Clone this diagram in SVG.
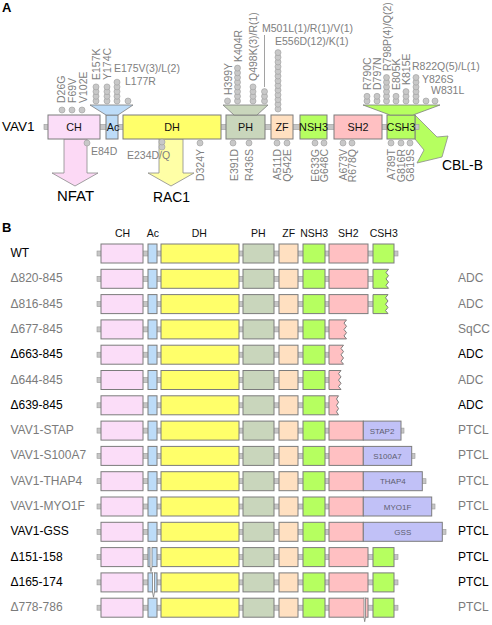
<svg xmlns="http://www.w3.org/2000/svg" xmlns:xlink="http://www.w3.org/1999/xlink" width="492" height="625" viewBox="0 0 492 625">
<style>
text{font-family:"Liberation Sans",Arial,Helvetica,sans-serif}
.d{stroke:#7c7c7c;stroke-width:1}
.ch{fill:#FBDDF8}.ac{fill:#BDDCF8}.dh{fill:#FFFF6A}.ph{fill:#C9D6BC}.zf{fill:#FFE0C1}.s3{fill:#B6FF60}.s2{fill:#FFC0C2}.fu{fill:#C1C1F7}
.bb{fill:#C6C6C6;stroke:#9a9a9a;stroke-width:.6}
.m{fill:#C8C8C8;stroke:#9c9c9c;stroke-width:.6}
.ml{font-size:10.5px;fill:#808080}
.dl{font-size:10.8px;fill:#111;text-anchor:middle}
.hd{font-size:10.5px;fill:#111;text-anchor:middle}
.rl{font-size:12px}
.g{fill:#7b7b7b}.k{fill:#000}
.big{font-size:15px;fill:#000}
.fl{font-size:8px;fill:#5e5e70;text-anchor:middle}
.nt{fill:#fff;stroke:#7c7c7c;stroke-width:.8}
.pl{font-size:13px;font-weight:bold;fill:#000}
</style>
<defs>
<circle id="m" r="3" class="m"/>
<g id="core">
<rect class="d ch" x="101" y="0" width="42" height="19"/>
<rect class="d ac" x="148" y="0" width="9" height="19"/>
<rect class="d dh" x="161" y="0" width="78" height="19"/>
<rect class="d ph" x="243" y="0" width="31" height="19"/>
<rect class="d zf" x="279" y="0" width="19" height="19"/>
<rect class="d s3" x="303" y="0" width="22" height="19"/>
</g>
</defs>

<!-- Panel A -->
<text class="pl" x="2" y="12">A</text>
<text x="2" y="131" style="font-size:13.5px;fill:#000">VAV1</text>

<g id="connectors">
<polygon id="arrow-cblb" points="415,115 437,137 448,136 442,157 417,163 424,150 415,139" fill="#B6FF60" stroke="#8a8a8a" stroke-width="0.8"/>
<rect class="bb" x="44" y="124.5" width="375" height="5"/>
<polygon id="arrow-nfat" points="64,139 87,139 87,173 98,173 75,186 52,173 64,173" fill="#FCD9F5" stroke="#8a8a8a" stroke-width="0.8"/>
<polygon id="arrow-rac1" points="159,139 183,139 183,173 194,173 171,186 148,173 159,173" fill="#FFFFA6" stroke="#8a8a8a" stroke-width="0.8"/>
<line x1="264.5" y1="35" x2="264.5" y2="87" stroke="#8a8a8a" stroke-width="0.8"/>
</g>

<g id="a-ch"><rect class="d ch" x="48" y="115" width="52" height="24"/><text class="dl" x="74" y="130.5">CH</text></g>
<g id="a-ac"><rect class="d ac" x="106" y="115" width="12" height="24"/><polygon class="ac" points="90,105 133,105 118,115 106,115" stroke="#7c7c7c" stroke-width="0.8"/><text class="dl" x="113" y="130.5">Ac</text></g>
<g id="a-dh"><rect class="d dh" x="123" y="115" width="98" height="24"/><text class="dl" x="172" y="130.5">DH</text></g>
<g id="a-ph"><rect class="d ph" x="226" y="115" width="39" height="24"/><polygon class="ph" points="223,105 268,105 257,115 234,115" stroke="#7c7c7c" stroke-width="0.8"/><text class="dl" x="245.5" y="130.5">PH</text></g>
<g id="a-zf"><rect class="d zf" x="271" y="115" width="22" height="24"/><text class="dl" x="282" y="130.5">ZF</text></g>
<g id="a-nsh3"><rect class="d s3" x="300" y="115" width="27" height="24"/><text class="dl" x="313.5" y="130.5">NSH3</text></g>
<g id="a-sh2"><rect class="d s2" x="334" y="115" width="48" height="24"/><text class="dl" x="358" y="130.5">SH2</text></g>
<g id="a-csh3"><rect class="d s3" x="387" y="115" width="28" height="24"/><polygon class="s3" points="363,105 440,105 413,115 390,115" stroke="#7c7c7c" stroke-width="0.8"/><text class="dl" x="401" y="130.5">CSH3</text></g>

<text class="big" x="75.5" y="200.5" text-anchor="middle" textLength="37" lengthAdjust="spacingAndGlyphs">NFAT</text>
<text class="big" x="171.5" y="202" text-anchor="middle" textLength="37" lengthAdjust="spacingAndGlyphs">RAC1</text>
<text class="big" x="442" y="170" textLength="41" lengthAdjust="spacingAndGlyphs">CBL-B</text>

<g id="mutations">
<use xlink:href="#m" x="62" y="110"/><use xlink:href="#m" x="72" y="110"/><use xlink:href="#m" x="82" y="110"/>
<use xlink:href="#m" x="96" y="101"/><use xlink:href="#m" x="96" y="96.3"/><use xlink:href="#m" x="96" y="91.6"/><use xlink:href="#m" x="96" y="86.9"/>
<use xlink:href="#m" x="107" y="101"/><use xlink:href="#m" x="107" y="96.3"/><use xlink:href="#m" x="107" y="91.6"/><use xlink:href="#m" x="107" y="86.9"/>
<use xlink:href="#m" x="117" y="101"/><use xlink:href="#m" x="117" y="96.3"/><use xlink:href="#m" x="117" y="91.6"/><use xlink:href="#m" x="117" y="86.9"/><use xlink:href="#m" x="117" y="82.2"/>
<use xlink:href="#m" x="128" y="101"/>
<use xlink:href="#m" x="227.5" y="101"/>
<use xlink:href="#m" x="237.5" y="101"/><use xlink:href="#m" x="237.5" y="96.3"/><use xlink:href="#m" x="237.5" y="91.6"/><use xlink:href="#m" x="237.5" y="86.9"/><use xlink:href="#m" x="237.5" y="82.2"/><use xlink:href="#m" x="237.5" y="77.5"/><use xlink:href="#m" x="237.5" y="72.8"/><use xlink:href="#m" x="237.5" y="68.1"/>
<use xlink:href="#m" x="253" y="101"/><use xlink:href="#m" x="253" y="96.3"/><use xlink:href="#m" x="253" y="91.6"/><use xlink:href="#m" x="253" y="86.9"/>
<use xlink:href="#m" x="264.5" y="101"/><use xlink:href="#m" x="264.5" y="96.3"/><use xlink:href="#m" x="264.5" y="91.6"/>
<use xlink:href="#m" x="278" y="109"/><use xlink:href="#m" x="278" y="104.3"/><use xlink:href="#m" x="278" y="99.6"/><use xlink:href="#m" x="278" y="94.9"/><use xlink:href="#m" x="278" y="90.2"/><use xlink:href="#m" x="278" y="85.5"/><use xlink:href="#m" x="278" y="80.8"/><use xlink:href="#m" x="278" y="76.1"/><use xlink:href="#m" x="278" y="71.4"/><use xlink:href="#m" x="278" y="66.7"/><use xlink:href="#m" x="278" y="62"/><use xlink:href="#m" x="278" y="57.3"/><use xlink:href="#m" x="278" y="52.6"/>
<use xlink:href="#m" x="367" y="101"/><use xlink:href="#m" x="367" y="96.3"/>
<use xlink:href="#m" x="377" y="101"/><use xlink:href="#m" x="377" y="96.3"/>
<use xlink:href="#m" x="386.5" y="101"/><use xlink:href="#m" x="386.5" y="96.3"/><use xlink:href="#m" x="386.5" y="91.6"/><use xlink:href="#m" x="386.5" y="86.9"/><use xlink:href="#m" x="386.5" y="82.2"/><use xlink:href="#m" x="386.5" y="77.5"/>
<use xlink:href="#m" x="396" y="101"/><use xlink:href="#m" x="396" y="96.3"/>
<use xlink:href="#m" x="406" y="101"/><use xlink:href="#m" x="406" y="96.3"/><use xlink:href="#m" x="406" y="91.6"/>
<use xlink:href="#m" x="416" y="101"/><use xlink:href="#m" x="416" y="96.3"/><use xlink:href="#m" x="416" y="91.6"/><use xlink:href="#m" x="416" y="86.9"/><use xlink:href="#m" x="416" y="82.2"/><use xlink:href="#m" x="416" y="77.5"/>
<use xlink:href="#m" x="426" y="101"/>
<use xlink:href="#m" x="435" y="101"/>
<use xlink:href="#m" x="87" y="143"/>
<use xlink:href="#m" x="162" y="147"/><use xlink:href="#m" x="162" y="142"/>
<use xlink:href="#m" x="200" y="143"/>
<use xlink:href="#m" x="233" y="143"/><use xlink:href="#m" x="249" y="143"/>
<use xlink:href="#m" x="277" y="143"/><use xlink:href="#m" x="287" y="143"/>
<use xlink:href="#m" x="315" y="143"/><use xlink:href="#m" x="324" y="143"/>
<use xlink:href="#m" x="343" y="143"/><use xlink:href="#m" x="352" y="143"/>
<use xlink:href="#m" x="391" y="143"/><use xlink:href="#m" x="401" y="143"/><use xlink:href="#m" x="410" y="143"/>
</g>

<g id="mutation-labels" class="ml">
<text transform="translate(65,103) rotate(-90)">D26G</text>
<text transform="translate(76,103) rotate(-90)">F69V</text>
<text transform="translate(86.5,103) rotate(-90)">V102E</text>
<text transform="translate(100,80) rotate(-90)">E157K</text>
<text transform="translate(111,80) rotate(-90)">Y174C</text>
<text x="114" y="72">E175V(3)/L(2)</text>
<text x="125" y="85">L177R</text>
<text transform="translate(231.5,95) rotate(-90)">H399Y</text>
<text transform="translate(241.5,62) rotate(-90)">K404R</text>
<text transform="translate(257,81) rotate(-90)">Q498K(3)/R(1)</text>
<text x="262" y="32">M501L(1)/R(1)/V(1)</text>
<text x="275" y="45">E556D(12)/K(1)</text>
<text transform="translate(371,90) rotate(-90)">R790C</text>
<text transform="translate(381,90) rotate(-90)">D797N</text>
<text transform="translate(390.5,71) rotate(-90)">R798P(4)/Q(2)</text>
<text transform="translate(400,90) rotate(-90)">E805K</text>
<text transform="translate(410,85) rotate(-90)">K815E</text>
<text x="412" y="70">R822Q(5)/L(1)</text>
<text x="422" y="82.5">Y826S</text>
<text x="431" y="94">W831L</text>
<text x="91" y="155">E84D</text>
<text x="127" y="159">E234D/Q</text>
<g text-anchor="end">
<text transform="translate(204,149) rotate(-90)">D324Y</text>
<text transform="translate(237.5,149) rotate(-90)">E391D</text>
<text transform="translate(253,149) rotate(-90)">R436S</text>
<text transform="translate(281,149) rotate(-90)">A511D</text>
<text transform="translate(291,149) rotate(-90)">Q542E</text>
<text transform="translate(319,149) rotate(-90)">E633G</text>
<text transform="translate(328,149) rotate(-90)">G648C</text>
<text transform="translate(347,149) rotate(-90)">A673V</text>
<text transform="translate(356,149) rotate(-90)">R678Q</text>
<text transform="translate(395,149) rotate(-90)">A789T</text>
<text transform="translate(405,149) rotate(-90)">G816R</text>
<text transform="translate(414,149) rotate(-90)">G819S</text>
</g>
</g>

<!-- Panel B -->
<text class="pl" x="2" y="232">B</text>
<g id="header">
<text class="hd" x="122.5" y="237">CH</text>
<text class="hd" x="152.8" y="237">Ac</text>
<text class="hd" x="199.3" y="237">DH</text>
<text class="hd" x="258.3" y="237">PH</text>
<text class="hd" x="288.7" y="237">ZF</text>
<text class="hd" x="314.2" y="237">NSH3</text>
<text class="hd" x="348.3" y="237">SH2</text>
<text class="hd" x="383.8" y="237">CSH3</text>
</g>

<g id="row-wt" transform="translate(0,244)">
<text class="rl k" x="10.5" y="13">WT</text>
<rect class="bb" x="97" y="7" width="301" height="5"/>
<use xlink:href="#core"/>
<rect class="d s2" x="329" y="0" width="39" height="19"/>
<rect class="d s3" x="373" y="0" width="21" height="19"/>
</g>

<g id="row-d820" transform="translate(0,269.3)">
<text class="rl g" x="10.5" y="13">Δ820-845</text>
<rect class="bb" x="97" y="7" width="278" height="5"/>
<use xlink:href="#core"/>
<rect class="d s2" x="329" y="0" width="39" height="19"/>
<path class="d s3" d="M373,0 H388.5 L386,3.2 L388.5,6.4 L386,9.6 L388.5,12.8 L386,16 L388.5,19 H373 Z"/>
<text class="rl g" x="458" y="13">ADC</text>
</g>

<g id="row-d816" transform="translate(0,294.6)">
<text class="rl g" x="10.5" y="13">Δ816-845</text>
<rect class="bb" x="97" y="7" width="278" height="5"/>
<use xlink:href="#core"/>
<rect class="d s2" x="329" y="0" width="39" height="19"/>
<path class="d s3" d="M373,0 H388 L385.5,3.2 L388,6.4 L385.5,9.6 L388,12.8 L385.5,16 L388,19 H373 Z"/>
<text class="rl g" x="458" y="13">ADC</text>
</g>

<g id="row-d677" transform="translate(0,319.9)">
<text class="rl g" x="10.5" y="13">Δ677-845</text>
<rect class="bb" x="97" y="7" width="234" height="5"/>
<use xlink:href="#core"/>
<path class="d s2" d="M329,0 H346.5 L344,3.2 L346.5,6.4 L344,9.6 L346.5,12.8 L344,16 L346.5,19 H329 Z"/>
<text class="rl g" x="458" y="13">SqCC</text>
</g>

<g id="row-d663" transform="translate(0,345.2)">
<text class="rl k" x="10.5" y="13">Δ663-845</text>
<rect class="bb" x="97" y="7" width="234" height="5"/>
<use xlink:href="#core"/>
<path class="d s2" d="M329,0 H343.5 L341,3.2 L343.5,6.4 L341,9.6 L343.5,12.8 L341,16 L343.5,19 H329 Z"/>
<text class="rl k" x="458" y="13">ADC</text>
</g>

<g id="row-d644" transform="translate(0,370.5)">
<text class="rl g" x="10.5" y="13">Δ644-845</text>
<rect class="bb" x="97" y="7" width="234" height="5"/>
<use xlink:href="#core"/>
<path class="d s2" d="M329,0 H341 L338.5,3.2 L341,6.4 L338.5,9.6 L341,12.8 L338.5,16 L341,19 H329 Z"/>
<text class="rl g" x="458" y="13">ADC</text>
</g>

<g id="row-d639" transform="translate(0,395.8)">
<text class="rl k" x="10.5" y="13">Δ639-845</text>
<rect class="bb" x="97" y="7" width="234" height="5"/>
<use xlink:href="#core"/>
<path class="d s2" d="M329,0 H338.5 L336.5,3.2 L338.5,6.4 L336.5,9.6 L338.5,12.8 L336.5,16 L338.5,19 H329 Z"/>
<text class="rl k" x="458" y="13">ADC</text>
</g>

<g id="row-stap" transform="translate(0,421.1)">
<text class="rl g" x="10.5" y="13">VAV1-STAP</text>
<rect class="bb" x="97" y="7" width="307" height="5"/>
<use xlink:href="#core"/>
<rect class="d s2" x="329" y="0" width="34.3" height="19"/>
<rect class="d fu" x="363.3" y="0" width="37.7" height="19"/>
<text class="fl" x="382" y="12.5">STAP2</text>
<text class="rl g" x="458" y="13">PTCL</text>
</g>

<g id="row-s100a7" transform="translate(0,446.4)">
<text class="rl g" x="10.5" y="13">VAV1-S100A7</text>
<rect class="bb" x="97" y="7" width="318" height="5"/>
<use xlink:href="#core"/>
<rect class="d s2" x="329" y="0" width="34.3" height="19"/>
<rect class="d fu" x="363.3" y="0" width="48.4" height="19"/>
<text class="fl" x="387.5" y="12.5">S100A7</text>
<text class="rl g" x="458" y="13">PTCL</text>
</g>

<g id="row-thap4" transform="translate(0,471.7)">
<text class="rl g" x="10.5" y="13">VAV1-THAP4</text>
<rect class="bb" x="97" y="7" width="329" height="5"/>
<use xlink:href="#core"/>
<rect class="d s2" x="329" y="0" width="34.3" height="19"/>
<rect class="d fu" x="363.3" y="0" width="59" height="19"/>
<text class="fl" x="392.8" y="12.5">THAP4</text>
<text class="rl g" x="458" y="13">PTCL</text>
</g>

<g id="row-myo1f" transform="translate(0,497)">
<text class="rl g" x="10.5" y="13">VAV1-MYO1F</text>
<rect class="bb" x="97" y="7" width="338" height="5"/>
<use xlink:href="#core"/>
<rect class="d s2" x="329" y="0" width="34.3" height="19"/>
<rect class="d fu" x="363.3" y="0" width="68.4" height="19"/>
<text class="fl" x="397.5" y="12.5">MYO1F</text>
<text class="rl g" x="458" y="13">PTCL</text>
</g>

<g id="row-gss" transform="translate(0,522.3)">
<text class="rl k" x="10.5" y="13">VAV1-GSS</text>
<rect class="bb" x="97" y="7" width="349" height="5"/>
<use xlink:href="#core"/>
<rect class="d s2" x="329" y="0" width="34.3" height="19"/>
<rect class="d fu" x="363.3" y="0" width="79" height="19"/>
<text class="fl" x="402.8" y="12.5">GSS</text>
<text class="rl k" x="458" y="13">PTCL</text>
</g>

<g id="row-d151" transform="translate(0,547.6)">
<text class="rl k" x="10.5" y="13">Δ151-158</text>
<rect class="bb" x="97" y="7" width="301" height="5"/>
<use xlink:href="#core"/>
<rect class="d s2" x="329" y="0" width="39" height="19"/>
<rect class="d s3" x="373" y="0" width="21" height="19"/>
<path class="nt" d="M150,-0.6 V19 L151,24 L152,19 V-0.6"/>
<text class="rl k" x="458" y="13">PTCL</text>
</g>

<g id="row-d165" transform="translate(0,572.9)">
<text class="rl k" x="10.5" y="13">Δ165-174</text>
<rect class="bb" x="97" y="7" width="301" height="5"/>
<use xlink:href="#core"/>
<rect class="d s2" x="329" y="0" width="39" height="19"/>
<rect class="d s3" x="373" y="0" width="21" height="19"/>
<path class="nt" d="M152.5,-0.6 V19 L153.5,24.4 L154.5,19 V-0.6"/>
<text class="rl k" x="458" y="13">PTCL</text>
</g>

<g id="row-d778" transform="translate(0,598.2)">
<text class="rl g" x="10.5" y="13">Δ778-786</text>
<rect class="bb" x="97" y="7" width="301" height="5"/>
<use xlink:href="#core"/>
<rect class="d s2" x="329" y="0" width="39" height="19"/>
<rect class="d s3" x="373" y="0" width="21" height="19"/>
<path class="nt" d="M364,-0.6 V19 L364.7,23.5 L365.5,19 V-0.6"/>
<text class="rl g" x="458" y="13">PTCL</text>
</g>
</svg>
